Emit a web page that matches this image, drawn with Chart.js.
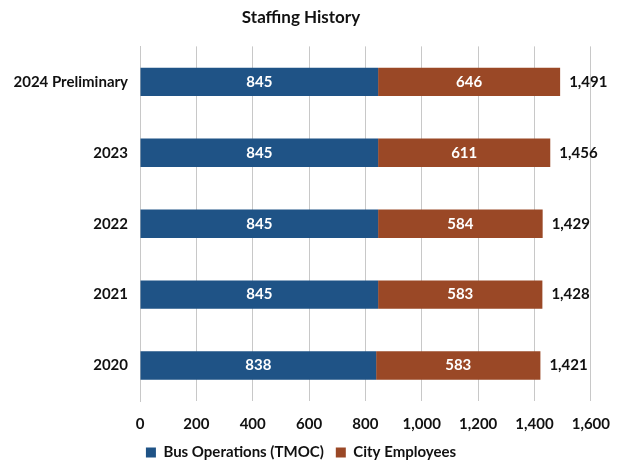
<!DOCTYPE html>
<html><head><meta charset="utf-8">
<script src="https://cdn.jsdelivr.net/npm/chart.js@4"></script>
<style>html,body{margin:0;padding:0;background:#fff}#wrap{width:624px;height:464px}</style>
</head><body><div id="wrap"><canvas id="c"></canvas></div>
<script>
const categories = ["2024 Preliminary","2023","2022","2021","2020"];
const busOps = [845,845,845,845,838];
const cityEmp = [646,611,584,583,583];
const totals = [1491,1456,1429,1428,1421];
const xTicks = [0,200,400,600,800,1000,1200,1400,1600];
const seriesNames = ["Bus Operations (TMOC)","City Employees"];

const FONT = "Lato";
const fmt = v => v.toLocaleString('en-US');

const labelPlugin = {
  id:'labels',
  afterDatasetsDraw(chart){
    const ctx = chart.ctx;
    ctx.save();
    ctx.font = `bold 15px ${FONT}`;
    ctx.textBaseline = 'middle';
    chart.data.datasets.forEach((ds,di)=>{
      const meta = chart.getDatasetMeta(di);
      meta.data.forEach((bar,i)=>{
        ctx.fillStyle = '#fff';
        ctx.textAlign = 'center';
        const mid = (bar.x + bar.base)/2;
        ctx.fillText(fmt(ds.data[i]), mid, bar.y);
      });
    });
    const xs = chart.scales.x;
    const meta = chart.getDatasetMeta(0);
    ctx.fillStyle = '#111';
    ctx.textAlign = 'left';
    totals.forEach((t,i)=>{
      ctx.fillText(fmt(t), xs.getPixelForValue(t)+9, meta.data[i].y);
    });
    ctx.restore();
  }
};

const legendFitPlugin = {
  id:'legendFit',
  beforeLayout(chart){
    const lg = chart.legend;
    if (lg && !lg._patched){
      const f = lg.fit.bind(lg);
      lg.fit = function(){ f(); this.height = 31; };
      lg._patched = true;
    }
  }
};

new Chart(document.getElementById('c'),{
  type:'bar',
  data:{
    labels:categories,
    datasets:[
      {label:seriesNames[0],data:busOps,backgroundColor:'#1f5386'},
      {label:seriesNames[1],data:cityEmp,backgroundColor:'#9a4826'}
    ]
  },
  options:{
    indexAxis:'y',
    responsive:true,maintainAspectRatio:false,animation:false,
    devicePixelRatio:1,
    layout:{padding:{top:1,right:22,left:0,bottom:0}},
    datasets:{bar:{barPercentage:0.4,categoryPercentage:1}},
    scales:{
      x:{stacked:true,min:0,max:1600,
        afterBuildTicks(s){s.ticks = xTicks.map(v=>({value:v}));},
        grid:{color:'#c8c8c8',drawTicks:false},
        border:{display:false},
        ticks:{padding:14,color:'#111',font:{family:FONT,size:15,weight:'bold'},callback:v=>fmt(v)},
        afterFit(s){s.height=32;}
      },
      y:{stacked:true,
        grid:{display:false,drawTicks:false},
        border:{display:true,color:'#c8c8c8'},
        ticks:{padding:12,color:'#111',font:{family:FONT,size:15,weight:'bold'}},
        afterFit(s){s.width=140;}
      }
    },
    plugins:{
      title:{display:true,text:'Staffing History',color:'#111',font:{family:FONT,size:17,weight:'bold'},padding:{top:6,bottom:19}},
      legend:{position:'bottom',labels:{color:'#111',boxWidth:10,boxHeight:10,padding:12,font:{family:FONT,size:15,weight:'bold'}}},
      tooltip:{enabled:false}
    }
  },
  plugins:[labelPlugin, legendFitPlugin]
});
</script></body></html>
